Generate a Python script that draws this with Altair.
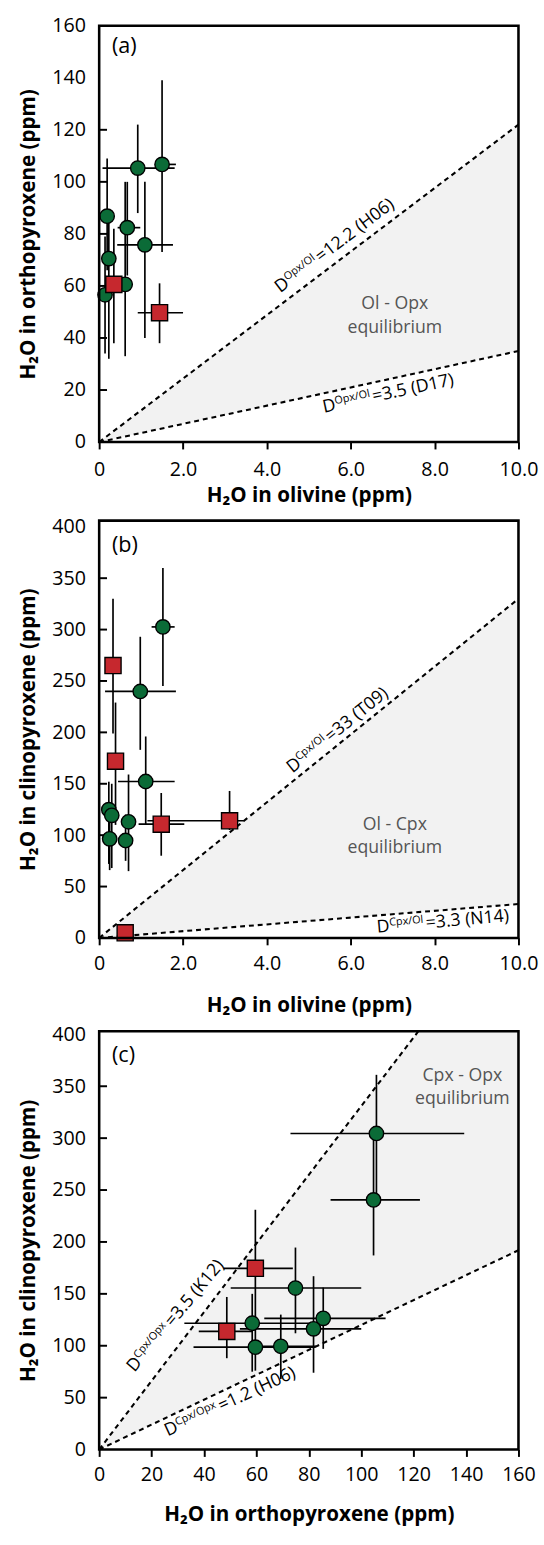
import altair as alt
import numpy as np
import pandas as pd

FONT = "Open Sans"
GREEN = "#0b6b37"
RED = "#c6282e"
SHADE = "#f2f2f2"

# ---------------- Panel (a): olivine (x) vs orthopyroxene (y) ----------------
a_kind = ["G", "G", "G", "G", "G", "G", "G", "G", "R", "R"]
a_x = [0.92, 1.50, 0.19, 0.23, 0.14, 0.62, 0.67, 1.09, 0.35, 1.44]
a_y = [105.3, 106.7, 86.8, 70.5, 56.6, 60.6, 82.4, 75.8, 60.6, 49.7]
a_xlo = [0.08, 1.33, 0.19, 0.23, 0.14, 0.62, 0.44, 0.43, 0.35, 0.92]
a_xhi = [1.80, 1.83, 0.19, 0.23, 0.14, 0.62, 0.98, 1.76, 0.35, 2.00]
a_ylo = [88, 73, 66, 32, 34, 33, 64, 40, 38, 38]
a_yhi = [122, 139, 109, 86, 79, 100, 100, 100, 82, 61]
a_upper = ([0, 10], [0, 122])   # D Opx/Ol = 12.2
a_lower = ([0, 10], [0, 35])    # D Opx/Ol = 3.5

# ---------------- Panel (b): olivine (x) vs clinopyroxene (y) ----------------
b_kind = ["G", "G", "G", "G", "G", "G", "G", "G", "R", "R", "R", "R", "R"]
b_x = [1.52, 0.98, 1.11, 0.23, 0.30, 0.70, 0.25, 0.63, 0.33, 0.39, 1.48, 3.11, 0.62]
b_y = [302.6, 239.8, 152.2, 124.8, 119.3, 113.0, 96.4, 94.8, 265, 172, 110.7, 114, 5]
b_xlo = [1.25, 0.14, 0.45, 0.23, 0.30, 0.55, 0.25, 0.63, 0.33, 0.39, 0.94, 1.15, 0.62]
b_xhi = [1.80, 1.83, 1.80, 0.23, 0.30, 0.85, 0.25, 0.63, 0.33, 0.39, 2.03, 3.45, 0.62]
b_ylo = [245, 183, 110, 72, 68, 65, 66, 75, 199, 110, 80, 105, 5]
b_yhi = [360, 293, 196, 152, 150, 159, 130, 120, 330, 229, 141, 143, 5]
b_upper = ([0, 10], [0, 330])   # D Cpx/Ol = 33
b_lower = ([0, 10], [0, 33])    # D Cpx/Ol = 3.3

# ---------------- Panel (c): orthopyroxene (x) vs clinopyroxene (y) ----------------
c_kind = ["G", "G", "G", "G", "G", "G", "G", "G", "R", "R"]
c_x = [105.8, 104.7, 74.9, 58.4, 85.5, 81.8, 59.6, 69.3, 59.6, 48.7]
c_y = [304.5, 240.5, 155.6, 121.7, 126.4, 116.3, 98.6, 99.5, 174.6, 113.8]
c_xlo = [73, 88.3, 50.2, 32.5, 63, 53.7, 36, 60, 47.5, 38]
c_xhi = [139.3, 122.4, 100, 81, 109.3, 100, 82.4, 82.7, 73.9, 58.7]
c_ylo = [240, 187, 112, 75, 97, 74, 76, 68, 120, 88]
c_yhi = [361, 300, 194.6, 150, 156, 167, 122, 130, 231, 147]
c_upper = ([0, 121.8], [0, 403])  # D Cpx/Opx = 3.5
c_lower = ([0, 160], [0, 192])    # D Cpx/Opx = 1.2

olivine_ticks = [0, 2, 4, 6, 8, 10]
opx_ticks = [0, 20, 40, 60, 80, 100, 120, 140, 160]
opx_yticks = [0, 20, 40, 60, 80, 100, 120, 140, 160]
cpx_ticks = [0, 50, 100, 150, 200, 250, 300, 350, 400]

SUP_W = {"Opx/Ol": 38.5, "Cpx/Ol": 37.0, "Cpx/Opx": 47.0}
D_W = 13.2
PLOT_W = 427


def one(**kw):
    return pd.DataFrame([kw])


def panel(kind, xs, ys, xlo, xhi, ylo, yhi, xdom, ydom, xticks, yticks, xfmt,
          xtitle, ytitle, upper, lower, letter, letter_y, eq_text, eq_x, eq_y,
          dlabels, height, x_title_pad, x_label_pad):
    pts = pd.DataFrame(dict(kind=kind, x=xs, y=ys, xlo=xlo, xhi=xhi, ylo=ylo, yhi=yhi))
    xaxis = alt.Axis(values=xticks, labelExpr=xfmt, title=xtitle,
                     titleFont=FONT, titleFontSize=21, titleFontWeight="bold",
                     titleColor="black", titlePadding=x_title_pad,
                     labelFont=FONT, labelFontSize=20, labelColor="black",
                     labelPadding=x_label_pad, labelFlush=False,
                     tickSize=7, tickWidth=2, tickColor="black",
                     domain=False, grid=False)
    yaxis = alt.Axis(values=yticks, title=ytitle, ticks=False,
                     titleFont=FONT, titleFontSize=21, titleFontWeight="bold",
                     titleColor="black", titlePadding=14,
                     labelFont=FONT, labelFontSize=20, labelColor="black",
                     labelPadding=14, labelFlush=False, domain=False, grid=False)
    xs_ = alt.Scale(domain=xdom, nice=False, zero=False)
    ys_ = alt.Scale(domain=ydom, nice=False, zero=False)

    def X(f):
        return alt.X(f"{f}:Q", scale=xs_, axis=xaxis)

    def Y(f):
        return alt.Y(f"{f}:Q", scale=ys_, axis=yaxis)

    # shaded equilibrium field between the two partition lines
    sx = sorted(set(upper[0]) | set(lower[0]))
    lo = np.interp(sx, lower[0], lower[1])
    up_slope = upper[1][-1] / upper[0][-1]
    hi = np.minimum(np.array(sx) * up_slope, ydom[1])
    shade_df = pd.DataFrame({"x": sx, "lo": lo, "hi": hi})
    shade = alt.Chart(shade_df).mark_area(color=SHADE, opacity=1).encode(
        x=X("x"), y=Y("lo"), y2=alt.Y2("hi"))

    ldf = pd.concat([
        pd.DataFrame({"x": upper[0], "y": upper[1], "id": "u"}),
        pd.DataFrame({"x": lower[0], "y": lower[1], "id": "l"}),
    ])
    lines = alt.Chart(ldf).mark_line(color="black", strokeWidth=2.1,
                                     strokeDash=[5, 4]).encode(
        x=X("x"), y=Y("y"), detail="id:N")

    tick_df = pd.DataFrame({"t": [t for t in yticks if 0 < t < ydom[1] - 20]})
    yt = alt.Chart(tick_df).mark_rule(color="black", strokeWidth=2).encode(
        x=alt.value(0), x2=alt.value(8), y=Y("t"))

    vbar = alt.Chart(pts).mark_rule(color="black", strokeWidth=1.7).encode(
        x=X("x"), y=Y("ylo"), y2=alt.Y2("yhi"))
    hbar = alt.Chart(pts).mark_rule(color="black", strokeWidth=1.7).encode(
        x=X("xlo"), x2=alt.X2("xhi"), y=Y("y"))

    circ = alt.Chart(pts).transform_filter("datum.kind == 'G'").mark_point(
        shape="circle", filled=True, fill=GREEN, stroke="black",
        strokeWidth=1.4, size=215, opacity=1).encode(x=X("x"), y=Y("y"))
    sq = alt.Chart(pts).transform_filter("datum.kind == 'R'").mark_point(
        shape="square", filled=True, fill=RED, stroke="black",
        strokeWidth=1.4, size=270, opacity=1).encode(x=X("x"), y=Y("y"))

    let = alt.Chart(one(t=letter)).mark_text(
        font=FONT, fontSize=22, align="left", baseline="alphabetic",
        color="black").encode(x=alt.value(13), y=alt.value(letter_y), text="t:N")

    eq = alt.Chart(one(x=eq_x, y=eq_y, t=eq_text)).mark_text(
        font=FONT, fontSize=18, align="center", baseline="middle",
        lineBreak="\n", lineHeight=24, color="#555555").encode(
        x=X("x"), y=Y("y"), text="t:N")

    frame = alt.Chart(one(k=1)).mark_rect(
        filled=False, stroke="black", strokeWidth=2.6).encode(
        x=alt.value(0), x2=alt.value(PLOT_W), y=alt.value(0), y2=alt.value(height))

    layers = [shade, lines, yt, vbar, hbar, circ, sq, let, eq]
    for (lx, ly, ang, sup, rest) in dlabels:
        d = one(x=lx, y=ly)
        common = dict(font=FONT, align="left", baseline="alphabetic",
                      angle=ang, color="black")
        layers.append(alt.Chart(d).mark_text(text="D", fontSize=18, **common)
                      .encode(x=X("x"), y=Y("y")))
        layers.append(alt.Chart(d).mark_text(text=sup, fontSize=11, dx=D_W,
                                             dy=-6, **common)
                      .encode(x=X("x"), y=Y("y")))
        layers.append(alt.Chart(d).mark_text(text=rest, fontSize=18,
                                             dx=D_W + SUP_W[sup], **common)
                      .encode(x=X("x"), y=Y("y")))
    layers.append(frame)
    return alt.layer(*layers).properties(width=PLOT_W, height=height)


olv_fmt = "datum.value == 0 ? '0' : format(datum.value, '.1f')"
int_fmt = "format(datum.value, 'd')"

pa = panel(a_kind, a_x, a_y, a_xlo, a_xhi, a_ylo, a_yhi, [0, 10], [0, 160],
           olivine_ticks, opx_yticks, olv_fmt,
           "H₂O in olivine (ppm)", "H₂O in orthopyroxene (ppm)",
           a_upper, a_lower, "(a)", 28, "Ol - Opx\nequilibrium", 7.05, 53,
           [(4.32, 57.2, 323, "Opx/Ol", "=12.2 (H06)"),
            (5.36, 11.3, 348, "Opx/Ol", "=3.5 (D17)")],
           424, 6, 11)

pb = panel(b_kind, b_x, b_y, b_xlo, b_xhi, b_ylo, b_yhi, [0, 10], [0, 406],
           olivine_ticks, cpx_ticks, olv_fmt,
           "H₂O in olivine (ppm)", "H₂O in clinopyroxene (ppm)",
           b_upper, b_lower, "(b)", 32, "Ol - Cpx\nequilibrium", 7.05, 110,
           [(4.61, 160, 321, "Cpx/Ol", "=33 (T09)"),
            (6.63, 5, 355, "Cpx/Ol", "=3.3 (N14)")],
           425, 22, 9)

pc = panel(c_kind, c_x, c_y, c_xlo, c_xhi, c_ylo, c_yhi, [0, 160], [0, 403],
           opx_ticks, cpx_ticks, int_fmt,
           "H₂O in orthopyroxene (ppm)", "H₂O in clinopyroxene (ppm)",
           c_upper, c_lower, "(c)", 31, "Cpx - Opx\nequilibrium", 138.6, 360,
           [(13.5, 74, 310, "Cpx/Opx", "=3.5 (K12)"),
            (26.2, 12.5, 335, "Cpx/Opx", "=1.2 (H06)")],
           426, 19, 9)

inner = alt.vconcat(pb, pc, spacing=95, bounds="flush")
chart = alt.vconcat(pa, inner, spacing=80, bounds="flush").properties(
    padding={"left": 17, "top": 2, "right": 6, "bottom": 6},
    background="white",
).configure_view(strokeWidth=0)

chart.save("out.html", embed_options={"renderer": "svg", "actions": False})
